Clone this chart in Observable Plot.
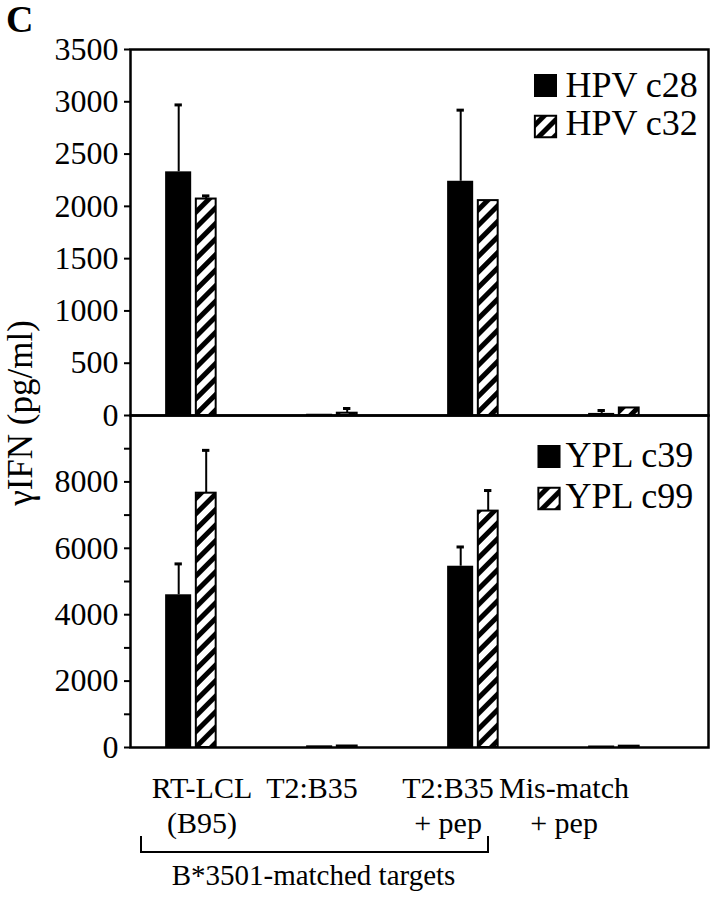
<!DOCTYPE html>
<html><head><meta charset="utf-8">
<script src="https://cdn.jsdelivr.net/npm/d3@7"></script>
<script src="https://cdn.jsdelivr.net/npm/@observablehq/plot@0.6"></script>
<style>
html,body{margin:0;padding:0;background:#fff;}
#fig{position:relative;width:715px;height:899px;overflow:hidden;font-family:"Liberation Serif","Times New Roman",serif;color:#000;background:#fff;}
#fig > svg{position:absolute;left:0;}
#fig svg text{font-family:"Liberation Serif","Times New Roman",serif;}
.letter{position:absolute;left:6px;top:3px;font-size:38px;line-height:32px;font-weight:bold;}
.ytitle{position:absolute;left:20px;top:413px;font-size:35px;line-height:35px;white-space:nowrap;transform:translate(-50%,-50%) rotate(-90deg);}
.bracket{position:absolute;border:2px solid #000;border-top:none;box-sizing:border-box;}
</style></head><body>
<svg width="0" height="0" style="position:absolute">
  <defs>
    <pattern id="hatch" patternUnits="userSpaceOnUse" width="11" height="11" patternTransform="rotate(45)">
      <rect width="11" height="11" fill="#fff"></rect>
      <rect width="5" height="11" fill="#000"></rect>
    </pattern>
  </defs>
</svg>
<div id="fig"></div>
<script>
// ---- data ----
const categories = ["RT-LCL\n(B95)", "T2:B35", "T2:B35\n+ pep", "Mis-match\n+ pep"];
const topSeries = ["HPV c28", "HPV c32"];
const hpvC28 = [2330, 12, 2240, 20];
const hpvC28Err = [640, 0, 680, 28];
const hpvC32 = [2070, 22, 2055, 72];
const hpvC32Err = [30, 45, 0, 0];
const bottomSeries = ["YPL c39", "YPL c99"];
const yplC39 = [4600, 50, 5460, 45];
const yplC39Err = [930, 0, 580, 0];
const yplC99 = [7660, 45, 7120, 40];
const yplC99Err = [1290, 0, 620, 0];
const topTicks = [0, 500, 1000, 1500, 2000, 2500, 3000, 3500];
const bottomTicks = [0, 1000, 2000, 3000, 4000, 5000, 6000, 7000, 8000, 9000];
const bottomTickLabels = [0, 2000, 4000, 6000, 8000];
const yTitle = "γIFN (pg/ml)";
const panelLetter = "C";
const groupLabel = "B*3501-matched targets";

// ---- layout / style ----
const FONT = '"Liberation Serif","Times New Roman",serif';
const X_RANGE = [120.2, 686.8];
const HALF = (X_RANGE[1] - X_RANGE[0]) / categories.length / 2;
const labelDx = [10, -21, -26, -51];

function rows(vals, errs, series) {
  return categories.map((c, i) => ({cat: c, series, value: vals[i], err: errs[i]}));
}

function panel({solid, hatched, domain, ticks, tickFormat, height, marginTop, marginBottom, legend, extra = []}) {
  const errMarks = (data, dx) => {
    const d = data.filter(r => r.err > 0);
    return [
      Plot.ruleX(d, {x: "cat", y1: "value", y2: r => r.value + r.err, dx, stroke: "#000", strokeWidth: 2}),
      Plot.tickY(d, {x: "cat", y: r => r.value + r.err, dx, insetLeft: HALF - 4, insetRight: HALF - 4, stroke: "#000", strokeWidth: 3})
    ];
  };
  const svg = Plot.plot({
    width: 715, height, marginLeft: 130, marginRight: 7, marginTop, marginBottom,
    style: "font-family: 'Liberation Serif', 'Times New Roman', serif; font-size: 30px; background: transparent; overflow: visible; color: #000;",
    x: {type: "band", domain: categories, range: X_RANGE, padding: 0, axis: null},
    y: {domain, axis: null, label: null},
    marks: [
      Plot.barY(solid, {x: "cat", y: "value", fill: "#000", insetLeft: HALF - 26.7, insetRight: HALF}),
      Plot.barY(hatched, {x: "cat", y: "value", fill: "url(#hatch)", stroke: "#000", strokeWidth: 2, insetLeft: HALF + 4, insetRight: HALF - 24.5}),
      ...errMarks(solid, -13.3),
      ...errMarks(hatched, 14.2),
      Plot.axisY({ticks, tickFormat, label: null, tickSize: 6, tickPadding: 6, fontSize: 32, strokeWidth: 2, fontFamily: FONT}),
      Plot.frame({stroke: "#000", strokeWidth: 2.5}),
      Plot.dot([legend.names[0]], {frameAnchor: "top-right", dx: legend.sx, dy: legend.sy[0], symbol: "square", r: 13, fill: "#000"}),
      Plot.dot([legend.names[1]], {frameAnchor: "top-right", dx: legend.sx, dy: legend.sy[1], symbol: "square", r: 12, fill: "url(#hatch)", stroke: "#000", strokeWidth: 2}),
      ...legend.names.map((n, i) => Plot.text([n], {frameAnchor: "top-right", text: d => d, dx: -143, dy: legend.ty[i], textAnchor: "start", lineAnchor: "middle", fontSize: 36, fontFamily: FONT})),
      ...extra
    ]
  });
  svg.setAttribute("font-family", FONT);
  return svg;
}

const fig = document.getElementById("fig");

const topPanel = panel({
  solid: rows(hpvC28, hpvC28Err, topSeries[0]),
  hatched: rows(hpvC32, hpvC32Err, topSeries[1]),
  domain: [0, 3500], ticks: topTicks, tickFormat: d => String(d),
  height: 435, marginTop: 49, marginBottom: 20,
  legend: {names: topSeries, sx: -163, sy: [36, 77], ty: [36, 74]}
});
topPanel.style.top = "0px";
fig.appendChild(topPanel);

const xLabelMarks = categories.map((c, i) =>
  Plot.text([c], {x: d => d, text: d => d, frameAnchor: "bottom", lineAnchor: "top", dy: 25, dx: labelDx[i], fontSize: 30, lineHeight: 1.18, fontFamily: FONT})
);
const captionMark = Plot.text([groupLabel], {frameAnchor: "bottom-left", text: d => d, dx: 183, dy: 128, textAnchor: "middle", lineAnchor: "middle", fontSize: 29, fontFamily: FONT});

const bottomPanel = panel({
  solid: rows(yplC39, yplC39Err, bottomSeries[0]),
  hatched: rows(yplC99, yplC99Err, bottomSeries[1]),
  domain: [0, 10000], ticks: bottomTicks, tickFormat: d => bottomTickLabels.includes(d) ? String(d) : "",
  height: 504, marginTop: 20, marginBottom: 152,
  legend: {names: bottomSeries, sx: -159.5, sy: [41, 83], ty: [40, 81]},
  extra: [...xLabelMarks, captionMark]
});
bottomPanel.style.top = "395px";
fig.appendChild(bottomPanel);

// annotations
const letter = document.createElement("div");
letter.className = "letter"; letter.textContent = panelLetter; fig.appendChild(letter);
const yt = document.createElement("div");
yt.className = "ytitle"; yt.textContent = yTitle; fig.appendChild(yt);
const br = document.createElement("div");
br.className = "bracket";
Object.assign(br.style, {left: "140px", top: "836px", width: "349px", height: "17px"});
fig.appendChild(br);
</script>
</body></html>
